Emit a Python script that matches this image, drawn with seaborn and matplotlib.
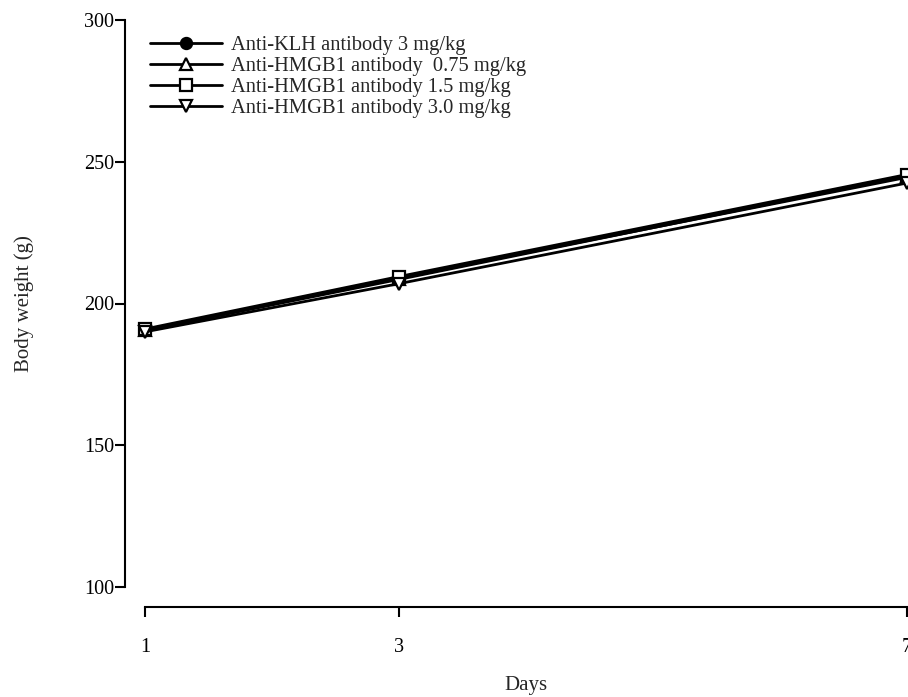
import numpy as np
import pandas as pd
import matplotlib
matplotlib.use("Agg")
import matplotlib.pyplot as plt
import seaborn as sns

# --- DATA ---
days = [1, 3, 7]
groups = [
    "Anti-KLH antibody 3 mg/kg",
    "Anti-HMGB1 antibody  0.75 mg/kg",
    "Anti-HMGB1 antibody 1.5 mg/kg",
    "Anti-HMGB1 antibody 3.0 mg/kg",
]
klh_3 = [190.5, 209.0, 244.5]
hmgb1_075 = [190.5, 208.5, 245.0]
hmgb1_15 = [191.0, 209.5, 245.5]
hmgb1_30 = [190.0, 207.0, 242.5]

series = [klh_3, hmgb1_075, hmgb1_15, hmgb1_30]
markers = ["o", "^", "s", "v"]
faces = ["black", "white", "white", "white"]

df = pd.DataFrame({
    "Days": days * len(groups),
    "weight": [v for s in series for v in s],
    "group": [g for g in groups for _ in days],
})

sns.set_style("ticks")
plt.rcParams["font.family"] = ["Liberation Serif", "DejaVu Serif"]

fig = plt.figure(figsize=(9.08, 6.97), dpi=100)
ax = fig.add_axes([145 / 908, 1 - 587 / 697, (907 - 145) / 908, (587 - 20) / 697])

for g, m, fc in zip(groups, markers, faces):
    sub = df[df["group"] == g]
    sns.lineplot(data=sub, x="Days", y="weight", ax=ax, color="black",
                 linewidth=2.0, marker=m, markersize=9 if m != "o" else 8,
                 markerfacecolor=fc, markeredgecolor="black",
                 markeredgewidth=1.6, label=g, clip_on=False)

ax.set_xlim(1, 7)
ax.set_ylim(100, 300)
ax.set_xticks(days)
ax.set_yticks([100, 150, 200, 250, 300])
ax.tick_params(axis="both", direction="out", length=7, width=1.5,
               labelsize=14.5, colors="black")
ax.tick_params(axis="x", pad=15)
ax.tick_params(axis="y", pad=1)

sns.despine(ax=ax)
ax.spines["left"].set_position(("outward", 14.4))
ax.spines["bottom"].set_position(("outward", 14.4))
for sp in ["left", "bottom"]:
    ax.spines[sp].set_linewidth(1.5)
    ax.spines[sp].set_color("black")

ax.set_xlabel("Days", fontsize=15, labelpad=14)
ax.set_ylabel("Body weight (g)", fontsize=15, labelpad=36)

ax.legend(loc="upper left", bbox_to_anchor=(0.007, 1 - 16 / 567), frameon=False,
          handlelength=3.5, handletextpad=0.4, labelspacing=0.08,
          fontsize=14.8, borderaxespad=0, borderpad=0)

fig.savefig("out.png", dpi=100)
